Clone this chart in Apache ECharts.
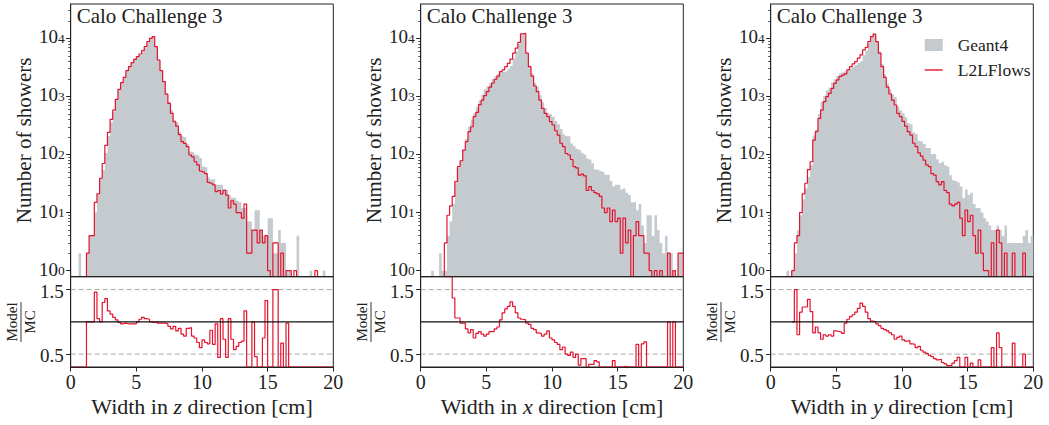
<!DOCTYPE html>
<html>
<head>
<meta charset="utf-8">
<script src="https://cdn.jsdelivr.net/npm/echarts@6/dist/echarts.min.js"></script>
<style>
html,body{margin:0;padding:0;background:#fff}
#c{width:1049px;height:425px}
</style>
</head>
<body>
<div id="c"></div>
<script>
// ---- data (100 bins of 0.2 cm from 0 to 20 cm) ----
const BIN_WIDTH = 0.2;
const N_BINS = 100;
const xTicks = [0, 5, 10, 15, 20];
const logTicks = [1, 10, 100, 1000, 10000];
const ratioTicks = [0.5, 1.5];
const panelTitle = 'Calo Challenge 3';
const axisVars = ['z', 'x', 'y'];
const seriesNames = ['Geant4', 'L2LFlows'];

const geantZ = [0,0,0,2,0,0,2,4,4,10, 20,39,54,106,205,360,542,864,1333,1773, 2163,2856,3340,3918,4474,4820,5154,5720,6819,8404, 10000,10768,7160,4316,2827,1837,1124,812,573,394, 357,244,205,199,151,112,110,100,97,87, 62,60,40,37,38,30,30,30,26,25, 20,18,18,16,15,12,12,7,7,5, 11,11,5,4,4,8,8,2,2,5, 3,3,1,1,0,0,4,0,0,0, 0,1,0,0,0,0,1,0,0,0];
const l2lZ = [0,0,0,0,0,0,2,4,4,15, 21,39,70,144,240,403,580,890,1320,1720, 2120,2770,3240,3800,4340,4820,5360,6120,7160,8740, 10000,10660,7160,4230,2770,1800,1090,755,510,366, 307,220,166,155,136,98,91,75,66,52, 50,47,33,32,30,23,24,21,24,20, 12,16,14,10,10,8,14,2,2,5, 5,3,5,3,4,1,0,3,3,0, 2,0,1,1,0,1,0,0,0,0, 0,0,0,1,0,0,0,0,0,0];
const ratioZ = [0,0,0,0,0,0,1.0,1.0,1.0,1.46, 1.05,1.0,1.30,1.36,1.17,1.12,1.07,1.03,0.99,0.97, 0.98,0.97,0.97,0.97,0.97,1.0,1.04,1.07,1.05,1.04, 1.0,0.99,1.0,0.98,0.98,0.98,0.97,0.93,0.89,0.93, 0.86,0.9,0.81,0.78,0.9,0.91,0.78,0.75,0.68,0.6, 0.72,0.68,0.66,0.87,0.65,0.97,0.45,1.05,0.73,0.45, 1.05,0.73,0.57,0.62,0.68,0.70,1.17,0,0,1.0, 0.46,0,0,0.75,1.33,0,0,1.5,1.5,0, 0.67,0,0.98,0,0,0,0,0,0,0, 0,0,0,0,0,0,0,0,0,0];

const geantX = [0,0,0,0,1,0,0,2,1,1, 4,7,14,32,58,80,121,187,300,400, 520,646,847,1062,1320,1494,1694,2000,2213,2435, 2592,2650,2708,2992,3328,4468,5939,8000,11442,11845, 5653,3375,2489,1716,1458,1049,795,630,523,491, 447,376,332,274,223,208,204,155,138,125, 120,107,100,85,82,71,55,55,52,50, 45,45,35,28,30,30,25,26,22,20, 15,15,11,14,6,3,9,9,4,9, 5,3,2,4,2,2,1,0,2,2];
const l2lX = [0,0,0,0,0,0,0,0,0,3, 9,13,19,34,62,78,119,166,247,300, 450,530,720,860,1030,1210,1440,1700,1970,2240, 2670,2860,3250,3710,4360,5540,6770,8480,11900,12200, 5540,3240,2240,1510,1210,860,620,510,450,368, 322,256,216,156,136,104,98,82,62,59, 44,46,43,24,28,24,22,21,19,12, 10,12,7,11,7,8,2,8,3,5, 0,4,7,4,4,2,2,1,0,1, 0,1,0,0,2,0,1,0,2,2];
const ratioX = [null,null,null,null,null,null,null,null,null,2.0, 2.0,2.0,1.37,1.06,1.06,0.98,0.98,0.89,0.83,0.88, 0.75,0.82,0.85,0.81,0.78,0.81,0.85,0.85,0.89,0.92, 1.03,1.14,1.2,1.24,1.31,1.24,1.14,1.06,1.04,1.03, 0.98,0.96,0.9,0.88,0.83,0.82,0.78,0.81,0.86,0.75, 0.72,0.68,0.65,0.57,0.61,0.5,0.48,0.53,0.45,0.5, 0.33,0.43,0.43,0.3,0.34,0.34,0.4,0.38,0,0, 0,0,0,0.4,0,0,0,0.31,0,0, 0,0,0.65,0,0.66,0.69,0,0,0,0, 0,0,0,0,1.0,0,1.0,0,0,0];

const geantY = [0,0,0,0,0,0,1,0,1,2, 5,9,17,26,41,65,213,268,504,797, 1014,1269,1413,1756,1953,2259,2500,2600,2700,2800, 3009,3261,3461,3760,4031,5080,6087,8333,10594,11800, 9000,5900,3600,2400,1670,1325,1075,970,670,577, 514,439,348,327,240,227,173,168,151,129, 129,102,102,83,71,75,65,62,44,36, 35,33,28,18,25,20,22,14,12,12, 10,8,7,6,5,5,6,5,4,6, 3,3,3,3,3,3,4,5,3,4];
const l2lY = [0,0,0,0,0,0,0,0,1,3, 4,10,21,32,55,75,177,247,418,582, 811,990,1130,1370,1680,1920,2200,2320,2440,2860, 3250,3620,3980,4550,5200,6300,7000,8750,10700,11800, 8750,5540,3240,2120,1440,1100,860,710,510,450, 370,307,247,216,156,136,107,94,80,66, 62,47,44,34,30,34,24,22,14,13, 14,15,8,4,11,7,9,4,2,5, 2,1,1,0,3,0,5,3,0,2, 0,0,2,0,0,0,2,0,0,0];
const ratioY = [null,null,null,null,null,null,null,null,1.0,1.5, 0.8,1.15,1.23,1.23,1.35,1.16,0.83,0.92,0.83,0.73, 0.8,0.78,0.8,0.78,0.86,0.85,0.84,0.82,0.98,1.04, 1.08,1.11,1.15,1.21,1.29,1.24,1.15,1.05,1.01,1.0, 0.97,0.94,0.9,0.88,0.86,0.83,0.8,0.73,0.76,0.78, 0.72,0.7,0.71,0.66,0.65,0.6,0.62,0.56,0.53,0.51, 0.48,0.46,0.43,0.41,0.42,0.37,0.35,0.32,0.32,0.36, 0.4,0.45,0,0.31,0.45,0,0.36,0,0,0.41, 0,0,0,0,0.6,0,0.83,0.6,0,0, 0,0,0.67,0,0,0,0.5,0,0,0];

const geantAll = [geantZ, geantX, geantY];
const l2lAll = [l2lZ, l2lX, l2lY];
const ratioAll = [ratioZ, ratioX, ratioY];

// ---- style / layout ----
const FONT = 'Times New Roman';
const GRAY = '#c4cacd', RED = '#e4132e', INK = '#222';
const PANEL_LEFT = [70.7, 420.7, 770.7], PANEL_W = 262.6;
const MAIN_TOP = 4, MAIN_H = 272.7, RAT_TOP = 276.7, RAT_H = 90.3;
const YMIN = 0.788, YMAX = 38900, RMIN = 0.3, RMAX = 1.7;
const TICK_FS = 20, YTICK_FS = 19;

const minorTicks = [];
for (let d = 0; d <= 4; d++) for (let k = 2; k <= 9; k++) { const v = k * Math.pow(10, d); if (v > YMIN && v < YMAX) minorTicks.push(v); }

function clamp(v, lo, hi) { return Math.min(hi, Math.max(lo, v)); }
function mainSteps(vals) {
  const pts = [[0, YMIN]];
  vals.forEach((v, i) => { const y = clamp(v, YMIN, YMAX); pts.push([i * BIN_WIDTH, y], [(i + 1) * BIN_WIDTH, y]); });
  pts.push([N_BINS * BIN_WIDTH, YMIN]);
  return pts;
}
function ratioSteps(vals) {
  const pts = [];
  vals.forEach((v, i) => {
    if (v === null) { pts.push([i * BIN_WIDTH, '-']); return; }
    const y = clamp(v, RMIN, RMAX);
    pts.push([i * BIN_WIDTH, y], [(i + 1) * BIN_WIDTH, y]);
  });
  return pts;
}
function tok(size, extra) { return Object.assign({ fontFamily: FONT, fontSize: size, color: INK }, extra || {}); }

const grids = [], xAxes = [], yAxes = [], series = [], titles = [], graphics = [];
const txt = { fontFamily: FONT, color: INK, fontWeight: 'normal', fontStyle: 'normal' };

for (let k = 0; k < 3; k++) {
  const L = PANEL_LEFT[k];
  grids.push({ left: L, top: MAIN_TOP, width: PANEL_W, height: MAIN_H, show: true, borderColor: INK, borderWidth: 1, backgroundColor: 'transparent', containLabel: false, outerBoundsMode: 'none' });
  grids.push({ left: L, top: RAT_TOP, width: PANEL_W, height: RAT_H, show: true, borderColor: INK, borderWidth: 1, backgroundColor: 'transparent', containLabel: false, outerBoundsMode: 'none' });

  xAxes.push({ type: 'value', gridIndex: 2 * k, min: 0, max: 20, interval: 5, z: 10,
    axisLine: { show: true, lineStyle: { color: INK, width: 1 } }, axisTick: { show: false }, axisLabel: { show: false }, splitLine: { show: false } });
  xAxes.push({ type: 'value', gridIndex: 2 * k + 1, min: 0, max: 20, interval: 5, z: 10,
    axisLine: { show: true, lineStyle: { color: INK, width: 1 } },
    axisTick: { show: true, inside: false, length: 4.5, lineStyle: { color: INK }, customValues: xTicks },
    axisLabel: { ...txt, fontSize: TICK_FS, margin: 5, customValues: xTicks, formatter: v => '{t|' + v + '}', rich: { t: tok(TICK_FS) } },
    splitLine: { show: false },
    name: '{t|Width in }{i|' + axisVars[k] + '}{t| direction [cm]}', nameLocation: 'middle', nameGap: 28,
    nameTextStyle: { ...txt, fontSize: 22, rich: { t: tok(22), i: tok(22, { fontStyle: 'italic' }) } } });

  yAxes.push({ type: 'log', logBase: 10, gridIndex: 2 * k, min: YMIN, max: YMAX, position: 'left', z: 10,
    axisLine: { show: true, lineStyle: { color: INK, width: 1 } },
    axisTick: { show: true, inside: false, length: 4.5, lineStyle: { color: INK }, customValues: logTicks },
    axisLabel: { customValues: logTicks, margin: 6, formatter: v => '{b|10}{s|' + Math.round(Math.log10(v)) + '}',
      rich: { b: tok(YTICK_FS, { lineHeight: 14, padding: [0, 0, 3, 0] }), s: tok(13.5, { lineHeight: 10, verticalAlign: 'top' }) } },
    splitLine: { show: false },
    name: '{t|Number of showers}', nameLocation: 'middle', nameRotate: 90, nameGap: 36,
    nameTextStyle: { ...txt, fontSize: 21, rich: { t: tok(21) } } });
  yAxes.push({ type: 'log', logBase: 10, gridIndex: 2 * k, min: YMIN, max: YMAX, position: 'left', offset: 0, z: 10,
    axisLine: { show: false }, axisLabel: { show: false }, splitLine: { show: false },
    axisTick: { show: true, inside: false, length: 2.5, lineStyle: { color: INK, width: 0.8 }, customValues: minorTicks } });
  yAxes.push({ type: 'value', gridIndex: 2 * k + 1, min: RMIN, max: RMAX, position: 'left', z: 10,
    axisLine: { show: true, lineStyle: { color: INK, width: 1 } },
    axisTick: { show: true, inside: false, length: 4.5, lineStyle: { color: INK }, customValues: ratioTicks },
    axisLabel: { customValues: ratioTicks, margin: 7, formatter: v => '{r|' + v.toFixed(1) + '}',
      rich: { r: tok(YTICK_FS, { lineHeight: 14, padding: [3, 0, 0, 0] }) } },
    splitLine: { show: false } });

  const xm = 2 * k, xr = 2 * k + 1, ym = 3 * k, yr = 3 * k + 2;
  series.push({ type: 'line', name: seriesNames[0], xAxisIndex: xm, yAxisIndex: ym, data: mainSteps(geantAll[k]),
    showSymbol: false, symbol: 'none', lineStyle: { width: 0, color: GRAY }, itemStyle: { color: GRAY },
    areaStyle: { color: GRAY, opacity: 1, origin: 'start' }, z: 1, animation: false, silent: true, clip: true });
  series.push({ type: 'line', name: seriesNames[1], xAxisIndex: xm, yAxisIndex: ym, data: mainSteps(l2lAll[k]),
    showSymbol: false, symbol: 'none', lineStyle: { width: 1.2, color: RED }, itemStyle: { color: RED }, z: 3, animation: false, silent: true, clip: true });
  [0.5, 1.5].forEach(r => series.push({ type: 'line', name: 'ref' + r, xAxisIndex: xr, yAxisIndex: yr, data: [[0, r], [20, r]],
    showSymbol: false, symbol: 'none', lineStyle: { width: 1, color: '#a8a8a8', type: [5, 3] }, z: 1, animation: false, silent: true }));
  series.push({ type: 'line', name: seriesNames[1], xAxisIndex: xr, yAxisIndex: yr, data: ratioSteps(ratioAll[k]), connectNulls: false,
    showSymbol: false, symbol: 'none', lineStyle: { width: 1.2, color: RED }, itemStyle: { color: RED }, z: 3, animation: false, silent: true, clip: true });
  series.push({ type: 'line', name: 'ref1', xAxisIndex: xr, yAxisIndex: yr, data: [[0, 1], [20, 1]],
    showSymbol: false, symbol: 'none', lineStyle: { width: 1.2, color: '#111' }, z: 4, animation: false, silent: true });

  titles.push({ text: '{t|' + panelTitle + '}', left: L + 6, top: 5, padding: 0, textStyle: { ...txt, fontSize: 21, rich: { t: tok(21) } } });

  graphics.push({ type: 'group', x: L - 49.7, y: 322, rotation: Math.PI / 2, silent: true, children: [
    { type: 'text', x: 0, y: -1.5, style: { text: '{t|Model}', rich: { t: tok(15) }, fontFamily: FONT, fontSize: 15, fill: INK, align: 'center', verticalAlign: 'bottom' } },
    { type: 'line', shape: { x1: -20, y1: 0, x2: 20, y2: 0 }, style: { stroke: INK, lineWidth: 0.9 } },
    { type: 'text', x: 0, y: 1.5, style: { text: '{t|MC}', rich: { t: tok(15) }, fontFamily: FONT, fontSize: 15, fill: INK, align: 'center', verticalAlign: 'top' } }
  ] });
}

const chart = echarts.init(document.getElementById('c'), null, { renderer: 'svg', width: 1049, height: 425 });
chart.setOption({
  backgroundColor: '#fff',
  animation: false,
  textStyle: { fontFamily: FONT, color: INK },
  title: titles,
  grid: grids,
  xAxis: xAxes,
  yAxis: yAxes,
  series: series,
  graphic: graphics,
  legend: { show: true, orient: 'vertical', left: 924, top: 36, padding: 0, itemWidth: 18, itemHeight: 12, itemGap: 7,
    selectedMode: false,
    formatter: name => '{t|' + name + '}',
    data: [{ name: seriesNames[0], icon: 'rect' },
           { name: seriesNames[1], itemStyle: { opacity: 0 }, lineStyle: { color: RED, width: 1.4 } }],
    textStyle: { fontFamily: FONT, fontSize: 17.5, color: INK, padding: [0, 0, 0, 10], rich: { t: tok(17.5) } } }
});
</script>
</body>
</html>
